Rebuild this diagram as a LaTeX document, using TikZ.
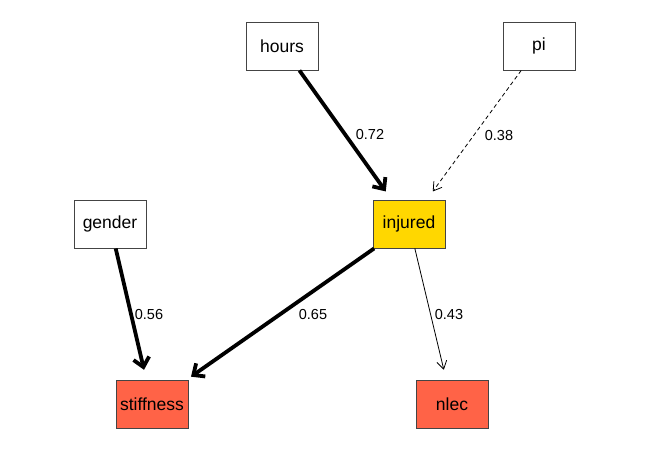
\documentclass[tikz,border=0pt]{standalone}
\usepackage{fontspec}
\setmainfont{Liberation Sans}
\usetikzlibrary{arrows.meta}
\definecolor{boxgold}{HTML}{FFD700}
\definecolor{boxred}{HTML}{FF6347}
\definecolor{boxline}{HTML}{444444}
\begin{document}
\begin{tikzpicture}[x=1pt,y=-1pt,
  var/.style={draw=boxline,line width=0.9pt,minimum width=72pt,minimum height=48pt,inner sep=0pt,font=\fontsize{17.5}{20}\selectfont},
  thickarr/.style={line width=3.8pt,-{Straight Barb[length=9pt,width=16pt,line width=3.8pt]},shorten >=10pt},
  thinarr/.style={line width=0.8pt,-{Straight Barb[length=8pt,width=10pt,line width=0.8pt]},shorten >=10pt},
  lab/.style={font=\fontsize{14.5}{16}\selectfont,inner sep=0pt}]
\useasboundingbox (0,0) rectangle (650,450);
\node[var] (hours) at (282,46) {hours};
\node[var] (pi) at (539,46) {pi};
\node[var] (gender) at (110,224) {gender};
\node[var,fill=boxgold] (injured) at (409,224) {injured};
\node[var,fill=boxred] (stiffness) at (152,404) {stiffness};
\node[var,fill=boxred] (nlec) at (452,404) {nlec};
\draw[thickarr] (hours) -- (injured);
\draw[thinarr,dash pattern=on 4pt off 3pt] (pi) -- (injured);
\draw[thickarr] (gender) -- (stiffness);
\draw[thickarr,shorten >=5pt] (injured) -- (stiffness);
\draw[thinarr] (injured) -- (nlec);
\node[lab] (l1) at (370,135) {0.72};
\node[lab] (l2) at (499,136) {0.38};
\node[lab] (l3) at (149,315) {0.56};
\node[lab] (l4) at (313,315) {0.65};
\node[lab] (l5) at (449,315) {0.43};
\end{tikzpicture}
\end{document}
